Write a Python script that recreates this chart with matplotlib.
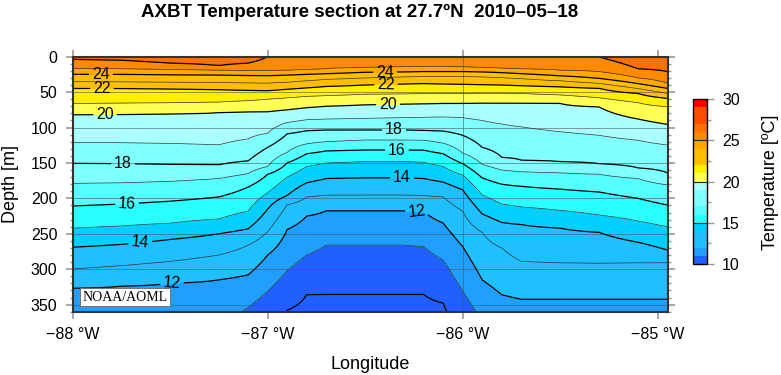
import matplotlib
matplotlib.use("Agg")
import matplotlib.pyplot as plt
import numpy as np
from matplotlib.ticker import FixedLocator, MultipleLocator

nan = np.nan

# Section columns (longitude, deg E)
LONS = [-88.0, -87.75, -87.5, -87.25, -87.1, -87.0, -86.9, -86.8, -86.7, -86.5,
        -86.3, -86.2, -86.1, -86.0, -85.9, -85.8, -85.7, -85.5, -85.3, -85.1, -84.95]

# Surface temperature per column [degC]
SST = [26.7, 26.7, 26.7, 26.7, 26.7, 26.0, 25.6, 25.6, 25.6, 25.6, 25.6,
       25.6, 25.6, 25.6, 25.6, 25.6, 25.6, 25.6, 26.05, 26.7, 26.7]

# Temperature at 450 m per column [degC] (below the plotted range)
DEEP_T = [10.8, 10.8, 10.8, 10.7, 9.8, 9.5, 9.2, 9.0, 9.0, 9.0, 9.0,
          9.0, 9.1, 9.5, 9.8, 10.7, 10.8, 10.8, 10.8, 10.8, 10.8]

# Isotherm depths [m] per column.
# nan = isotherm not present in that column, > 360 = below the plotted range
ISO_26 = [3.5, 5, 9, 12.5, 9, nan, nan, nan, nan, nan, nan,
          nan, nan, nan, nan, nan, nan, nan, 0.5, 17, 21]
ISO_25 = [16.4, 17, 18, 19, 19.5, 19.7, 19, 18, 17, 15, 14,
          14, 14, 14.5, 15, 16, 17, 19, 21, 30, 37.6]
ISO_24 = [24.9, 25, 25.5, 26, 26.5, 26.8, 26, 25, 24, 22, 21.5,
          21, 21, 21, 21.5, 22.5, 24, 27, 30.6, 38, 44.7]
ISO_23 = [35.3, 35.5, 36, 36.5, 37, 37.3, 36, 34, 32, 30, 28.5,
          28, 28, 28, 28.5, 29.5, 31, 34, 37.6, 45, 51.7]
ISO_22 = [44.7, 45, 45.5, 46.5, 47.5, 48, 46, 44, 42, 40, 38.5,
          38, 38.5, 39, 39.5, 40, 41, 42.5, 44.7, 52, 58.8]
ISO_21 = [66, 65.5, 65, 64, 62, 60, 58, 56, 55, 53, 52.5,
          52, 52, 52, 51.5, 51.5, 52, 54, 58, 65, 70.6]
ISO_20 = [82, 81.5, 81, 79, 78, 77.6, 75, 72, 70, 68, 67,
          66.5, 66, 66, 65.5, 65.5, 65.5, 66, 71, 88, 95.5]
ISO_19 = [121, 121.5, 122.5, 124.5, 116, 108, 93, 89, 88, 87, 86,
          85.5, 85, 86, 90, 95, 99, 106, 111, 118, 124.7]
ISO_18 = [150.6, 151, 152, 152.5, 147, 128, 109, 104.5, 103.5, 103.5, 103.5,
          104, 105, 111, 128, 142, 146, 148, 151, 157, 164]
ISO_17 = [178.8, 178, 176, 172, 165, 155, 135, 123, 120, 117.6, 117.6,
          118, 122, 136, 152, 160, 162.4, 164, 166, 172, 181]
ISO_16 = [210.8, 208, 204, 198, 184, 166, 150, 137, 133, 131.7, 131.7,
          132, 137, 151, 171, 180, 183, 187, 191, 200, 209.4]
ISO_15 = [242, 239, 235, 229, 218, 192, 170, 155, 150, 148, 148,
          149, 155, 167, 195, 208, 212, 217, 223.5, 232, 240]
ISO_14 = [269, 265, 258, 250, 243, 215, 196, 178, 172, 171, 171,
          172, 177, 188, 222, 234, 237, 242, 248, 262, 273]
ISO_13 = [299.7, 295, 289, 280, 266, 247, 209, 198, 195.5, 195.3, 195.3,
          196, 198, 218, 248, 270, 289, 291, 291.5, 291, 290.8]
ISO_12 = [327, 324, 320, 315, 308, 280, 244, 225, 217.4, 217.4, 217.4,
          219, 235, 268, 315, 336, 342.5, 342.5, 342.5, 342.5, 342.5]
ISO_11 = [400, 398, 395, 388, 354, 331, 302, 280, 266, 266, 266,
          268, 287, 331, 377, 395, 400, 400, 400, 400, 400]
ISO_10 = [nan, nan, nan, nan, 410, 380, 358, 336, 335.5, 335.5, 335.5,
          335.5, 348, 383, 420, nan, nan, nan, nan, nan, nan]

# GMT "no_green" style palette, one colour per 1 degC band (10..30)
BAND_COLORS = ["#2060ff", "#209fff", "#20bfff", "#20bfff", "#00cfff",
               "#2affff", "#55ffff", "#7fffff", "#7fffff", "#aaffff",
               "#ffff54", "#fff000", "#ffbf00", "#ffbf00", "#ffa800",
               "#ff8a00", "#ff7000", "#ff4d00", "#ff4d00", "#ff0000"]

LON_TICKS = [-88, -87, -86, -85]
LON_TICK_LABELS = ["\u221288 \u00b0W", "\u221287 \u00b0W", "\u221286 \u00b0W", "\u221285 \u00b0W"]

# where the even isotherm labels sit (lon, depth)
LABEL_POS = [(-87.855, 24.4), (-87.850, 47), (-87.834, 82.3), (-87.742, 154),
             (-87.722, 206.6), (-87.655, 260.2), (-87.491, 319.5),
             (-86.398, 21.6), (-86.393, 40), (-86.383, 66.8), (-86.352, 103.5),
             (-86.337, 131.7), (-86.311, 171.3), (-86.235, 218.5)]

INK = "#000000"
TICK = "#999999"
FRAME = "#333333"

plt.rcParams["font.family"] = ["Liberation Sans", "DejaVu Sans"]

isotherms = {26: ISO_26, 25: ISO_25, 24: ISO_24, 23: ISO_23, 22: ISO_22,
             21: ISO_21, 20: ISO_20, 19: ISO_19, 18: ISO_18, 17: ISO_17,
             16: ISO_16, 15: ISO_15, 14: ISO_14, 13: ISO_13, 12: ISO_12,
             11: ISO_11, 10: ISO_10}

# temperature profile per column from the isotherm depths
depth = np.linspace(0, 360, 361)
temp = np.empty((depth.size, len(LONS)))
for j in range(len(LONS)):
    zs, ts = [0.0], [SST[j]]
    for t in sorted(isotherms, reverse=True):
        d = isotherms[t][j]
        if not np.isnan(d):
            zs.append(d)
            ts.append(t)
    zs.append(450.0)
    ts.append(DEEP_T[j])
    temp[:, j] = np.interp(depth, zs, ts)

fig = plt.figure(figsize=(7.81, 3.75), dpi=100)
ax = fig.add_axes([0.0931, 0.1688, 0.7622, 0.68])

levels = np.arange(10, 31, 1)
# the colour scale stops at 10 degC; colder water shares the lowest band
cf = ax.contourf(LONS, depth, np.clip(temp, 10, None), levels=levels,
                 colors=BAND_COLORS)

for y in range(50, 360, 50):
    ax.axhline(y, color="#4a5a60", lw=0.7, alpha=0.6, zorder=1.5)
ax.axvline(-86, color="#4a5a60", lw=0.7, alpha=0.6, zorder=1.5)

ax.contour(LONS, depth, temp, levels=np.arange(11, 27, 2), colors="#333333",
           linewidths=0.5)
ax.contour(LONS, depth, temp, levels=[10, 26], colors=INK, linewidths=0.9)
cs = ax.contour(LONS, depth, temp, levels=np.arange(12, 25, 2), colors=INK,
                linewidths=0.9)
ax.clabel(cs, manual=LABEL_POS, fmt="%d", fontsize=11.5, inline=True,
          inline_spacing=3, colors=INK)

ax.set_xlim(-88, -84.947)
ax.set_ylim(360, 0)
ax.set_xticks(LON_TICKS, LON_TICK_LABELS)
ax.set_yticks(range(0, 351, 50))
ax.yaxis.set_minor_locator(MultipleLocator(10))
ax.tick_params(which="both", direction="out", top=True, right=True,
               color=TICK, labelsize=11.5, labelcolor=INK)
ax.tick_params(which="major", length=5, width=1.2, pad=6)
ax.tick_params(which="minor", length=2.5, width=1.0)
for sp in ax.spines.values():
    sp.set_color(FRAME)
    sp.set_linewidth(1.5)

ax.text(0.0879, 0.0576, "NOAA/AOML", transform=ax.transAxes, ha="center",
        va="center", fontsize=10, family="Liberation Serif", zorder=5,
        bbox=dict(facecolor="white", edgecolor="#666666", lw=0.6,
                  boxstyle="square,pad=0.15"))

cax = fig.add_axes([0.8873, 0.296, 0.0179, 0.44])
cbar = fig.colorbar(cf, cax=cax, ticks=[10, 15, 20, 25, 30])
cbar.outline.set_edgecolor(INK)
cbar.outline.set_linewidth(1.0)
for v in (15, 20, 25):
    cax.axhline(v, color="#222222", lw=0.8)
cax.yaxis.set_minor_locator(FixedLocator([12.5, 17.5, 22.5, 27.5]))
cax.tick_params(which="both", color=TICK, labelsize=11.5)
cax.tick_params(which="major", length=5, width=1.0, pad=6)
cax.tick_params(which="minor", length=3, width=1.0)

fig.text(0.46, 0.968, "AXBT Temperature section at 27.7\u00baN  2010\u201305\u201318",
         ha="center", va="center", fontsize=13.5, fontweight="bold")
fig.text(0.474, 0.027, "Longitude", ha="center", va="center", fontsize=13)
fig.text(0.013, 0.509, "Depth [m]", ha="center", va="center", rotation=90,
         fontsize=13)
fig.text(0.987, 0.515, "Temperature [\u00baC]", ha="center", va="center",
         rotation=90, fontsize=13)

fig.savefig("out.png", dpi=100)
